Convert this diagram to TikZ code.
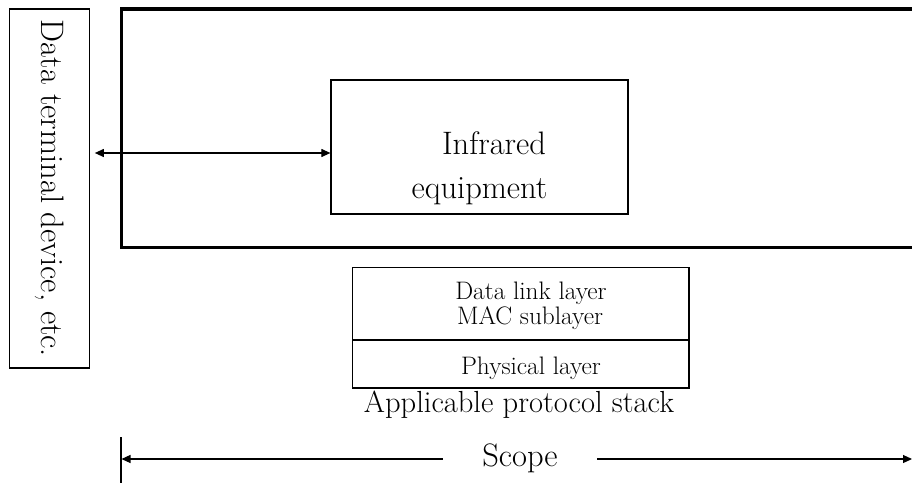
\documentclass[tikz,border=0pt]{standalone}
\usetikzlibrary{arrows.meta}
\begin{document}
\begin{tikzpicture}[x=1pt, y=-1pt,
  thinbox/.style={draw, line width=1.2pt, inner sep=0pt},
  bigtxt/.style={inner sep=0pt, font=\fontsize{32.5}{39}\selectfont},
  midtxt/.style={inner sep=0pt, font=\fontsize{30.5}{36}\selectfont},
  smalltxt/.style={inner sep=0pt, font=\fontsize{25.3}{30}\selectfont},
  dblarr/.style={line width=1.1pt, {Triangle[length=9pt,width=8pt]}-{Triangle[length=9pt,width=8pt]}}]
\useasboundingbox (0,0) rectangle (912,482);
\clip (0,0) rectangle (912,482);

% data terminal (vertical box with rotated label)
\node[thinbox, minimum width=80.5pt, minimum height=359pt] (dte) at (49.5,188.5) {};
\node[bigtxt, rotate=-90] (dtetxt) at (dte.center) {Data terminal device, etc.};

% equipment boundary (thick frame running off to the right)
\node[draw, line width=3.6pt, inner sep=0pt, minimum width=818.5pt, minimum height=238.5pt] (frame) at (530.75,128.25) {};

% infrared equipment
\node[thinbox, minimum width=297pt, minimum height=134pt] (ir) at (479.5,147) {};
\node[bigtxt, anchor=base] (irtxt1) at ([xshift=14.5pt,yshift=-7pt]ir.center) {Infrared};
\node[bigtxt, anchor=base] (irtxt2) at ([yshift=-51pt]ir.center) {equipment};

% link between terminal and equipment
\draw[dblarr, shorten >=4.5pt] ([yshift=-6pt]ir.west) -- ([yshift=-6pt]ir.west -| dte.east);

% protocol stack
\node[thinbox, minimum width=336.3pt, minimum height=71.6pt] (dll) at (520.85,303.5) {};
\node[thinbox, minimum width=336.3pt, minimum height=47.4pt, anchor=north] (phy) at (dll.south) {};
\node[smalltxt, anchor=base] (dlltxt1) at (531,299) {Data link layer};
\node[smalltxt, anchor=base] (dlltxt2) at (530,324) {MAC sublayer};
\node[smalltxt, anchor=base] (phytxt) at (531,374) {Physical layer};
\node[midtxt, anchor=base] (stacktxt) at (519,412) {Applicable protocol stack};

% scope
\coordinate (tickTop) at (120.5,437);
\coordinate (tickBot) at (120.5,484);
\draw[line width=2pt] (tickTop) -- (tickBot);
\coordinate (scopeL) at (121.5,459);
\coordinate (scopeR) at (912,459);
\draw[dblarr] (scopeL) -- (scopeR);
\node[fill=white, inner sep=0pt, minimum width=154pt, minimum height=20pt] (scope) at (520,459) {};
\node[bigtxt, anchor=base] (scopetxt) at (520,466) {Scope};
\end{tikzpicture}
\end{document}
